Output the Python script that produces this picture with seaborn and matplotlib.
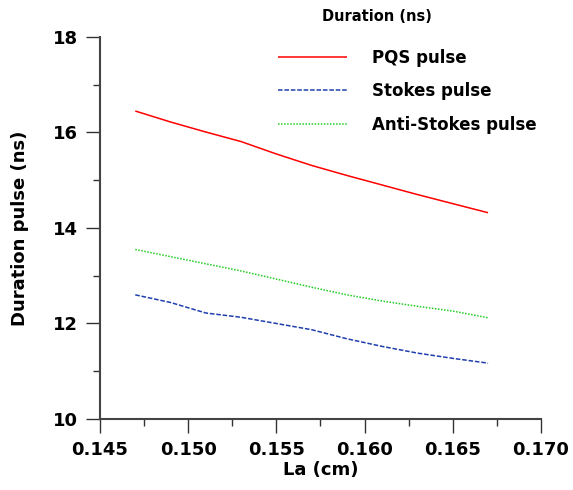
import numpy as np
import pandas as pd
import seaborn as sns
import matplotlib.pyplot as plt
from matplotlib.ticker import MultipleLocator

# Data
la_cm = [0.147, 0.149, 0.151, 0.153, 0.155, 0.157, 0.159, 0.161, 0.163, 0.165, 0.167]
pqs_pulse = [16.45, 16.22, 16.01, 15.81, 15.55, 15.31, 15.10, 14.90, 14.70, 14.51, 14.32]
stokes_pulse = [12.60, 12.44, 12.22, 12.13, 12.00, 11.87, 11.68, 11.52, 11.38, 11.27, 11.17]
anti_stokes_pulse = [13.55, 13.40, 13.25, 13.10, 12.93, 12.76, 12.60, 12.47, 12.36, 12.26, 12.12]

series_names = ["PQS pulse", "Stokes pulse", "Anti-Stokes pulse"]
series_colors = ["#ff0000", "#1f3fae", "#22cc22"]
series_dashes = [(1, 0), (3, 1.2), (1, 1)]

data = pd.DataFrame({
    "La": la_cm * 3,
    "Duration": pqs_pulse + stokes_pulse + anti_stokes_pulse,
    "Series": [series_names[0]] * len(la_cm)
    + [series_names[1]] * len(la_cm)
    + [series_names[2]] * len(la_cm),
})

sns.set_style("white")
plt.rcParams['font.family'] = ['DejaVu Sans']
plt.rcParams['font.weight'] = 'bold'
plt.rcParams['text.color'] = 'black'
plt.rcParams['axes.labelcolor'] = 'black'
plt.rcParams['xtick.labelcolor'] = 'black'
plt.rcParams['ytick.labelcolor'] = 'black'

fig = plt.figure(figsize=(5.73, 4.9), dpi=100)
ax = fig.add_axes([0.1745, 0.1449, 0.7696, 0.7796])

sns.lineplot(
    data=data,
    x="La",
    y="Duration",
    hue="Series",
    style="Series",
    palette=dict(zip(series_names, series_colors)),
    dashes=dict(zip(series_names, series_dashes)),
    linewidth=1.1,
    ax=ax,
)

ax.set_xlim(0.145, 0.170)
ax.set_ylim(10, 18)
ax.xaxis.set_major_locator(MultipleLocator(0.005))
ax.xaxis.set_minor_locator(MultipleLocator(0.0025))
ax.yaxis.set_major_locator(MultipleLocator(2))
ax.yaxis.set_minor_locator(MultipleLocator(1))
ax.set_xticklabels([f"{v:.3f}" for v in ax.get_xticks()])

ax.tick_params(axis='both', which='major', direction='out', length=10,
               width=1, color='#333333', labelsize=13, pad=6,
               bottom=True, left=True)
ax.tick_params(axis='both', which='minor', direction='out', length=5,
               width=1, color='#333333', bottom=True, left=True)
for lab in ax.get_xticklabels() + ax.get_yticklabels():
    lab.set_fontweight('bold')

sns.despine(ax=ax)
for side in ['left', 'bottom']:
    ax.spines[side].set_color('#444444')
    ax.spines[side].set_linewidth(1.5)

ax.set_xlabel("La (cm)", fontsize=13, fontweight='bold', labelpad=1)
ax.set_ylabel("Duration pulse (ns)", fontsize=13, fontweight='bold', labelpad=17)

leg = ax.legend(
    loc='upper left',
    frameon=False,
    fontsize=12,
    handlelength=4.1,
    handletextpad=1.5,
    labelspacing=0.93,
    borderaxespad=0,
)
leg.set_bbox_to_anchor((0.474, 0.914), transform=fig.transFigure)
for t in leg.get_texts():
    t.set_fontweight('bold')

fig.text(0.658, 0.966, "Duration (ns)", fontsize=10.5, fontweight='bold',
         ha='center', va='center')

fig.savefig("out.png", dpi=100)
